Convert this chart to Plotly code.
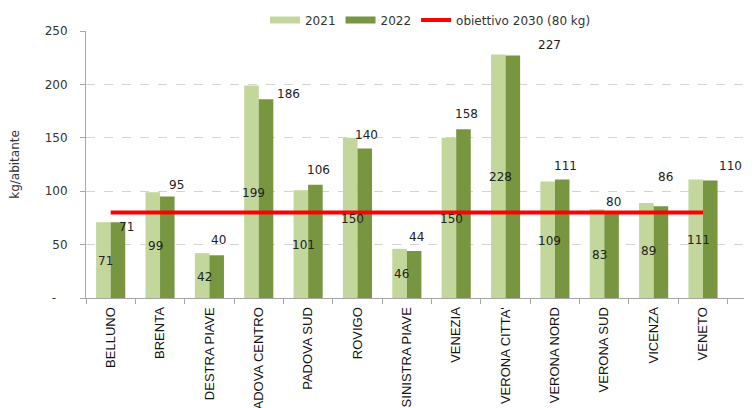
import plotly.graph_objects as go

categories = ["BELLUNO", "BRENTA", "DESTRA PIAVE", "PADOVA CENTRO", "PADOVA SUD", "ROVIGO",
              "SINISTRA PIAVE", "VENEZIA", "VERONA CITTA'", "VERONA NORD", "VERONA SUD",
              "VICENZA", "VENETO"]
values_2021 = [71, 99, 42, 199, 101, 150, 46, 150, 228, 109, 83, 89, 111]
values_2022 = [71, 95, 40, 186, 106, 140, 44, 158, 227, 111, 80, 86, 110]
obiettivo_2030 = 80
y_tick_vals = [0, 50, 100, 150, 200, 250]
y_tick_text = ["-\u00a0\u00a0\u00a0", "50", "100", "150", "200", "250"]

# pixel offsets of the 2022 value labels (dx right, dy up) relative to the top of the dark bar
label_dx_2022 = [8.5, 9, 2, 22, 2.4, 2, 2, 2.5, 36, 3, 2, 4, 20]
label_dy_2022 = [-4.5, 11.5, 15, 5, 15, 13.5, 14, 15, 10.6, 13.5, 11, 29, 14.5]

LIGHT = "#C3D69B"
DARK = "#77963F"
RED = "#FF0000"
FONT = "DejaVu Sans"
LABEL_FONT = dict(family=FONT, size=12, color="#222222")

fig = go.Figure()
fig.add_trace(go.Bar(
    x=categories, y=values_2021, name="2021", marker_color=LIGHT, marker_line_width=0,
    showlegend=False))
fig.add_trace(go.Bar(
    x=categories, y=values_2022, name="2022", marker_color=DARK, marker_line_width=0,
    showlegend=False))
fig.add_trace(go.Scatter(
    x=[categories[0], categories[-1]], y=[obiettivo_2030, obiettivo_2030], mode="lines",
    line=dict(color=RED, width=4), name="obiettivo 2030 (80 kg)", legendrank=3))
# legend proxies (wide flat swatches like the original)
fig.add_trace(go.Scatter(x=[None], y=[None], mode="lines", line=dict(color=LIGHT, width=7),
                         name="2021", legendrank=1))
fig.add_trace(go.Scatter(x=[None], y=[None], mode="lines", line=dict(color=DARK, width=7),
                         name="2022", legendrank=2))

# 2021 labels: centred inside the light bar
for cat, v in zip(categories, values_2021):
    fig.add_annotation(x=cat, y=v / 2, xref="x", yref="y", text=str(v), showarrow=False,
                       xanchor="center", yanchor="middle", xshift=-7.5 + 2.5, yshift=-1,
                       font=LABEL_FONT)
# 2022 labels: above the dark bar
for cat, v, dx, dy in zip(categories, values_2022, label_dx_2022, label_dy_2022):
    fig.add_annotation(x=cat, y=v, xref="x", yref="y", text=str(v), showarrow=False,
                       xanchor="center", yanchor="middle", xshift=7.5 + dx, yshift=dy,
                       font=LABEL_FONT)

fig.update_layout(
    width=755, height=408,
    margin=dict(l=78, r=19, t=23, b=118, autoexpand=False),
    paper_bgcolor="white", plot_bgcolor="white",
    barmode="group", bargap=0.41, bargroupgap=0,
    font=dict(family=FONT, size=12, color="#333333"),
    legend=dict(orientation="h", x=0.272, y=1.041, xanchor="left", yanchor="middle",
                font=dict(family=FONT, size=12, color="#333333"),
                itemwidth=30, traceorder="normal", bgcolor="rgba(0,0,0,0)"),
    xaxis=dict(
        type="category", showline=True, linecolor="#A6A6A6", linewidth=1,
        ticks="outside", ticklen=5, tickcolor="#A6A6A6", tickson="boundaries",
        tickangle=-90, tickfont=dict(family="Liberation Sans", size=13, color="#111111"),
        ticklabelstandoff=3, showgrid=False, automargin=False),
    yaxis=dict(
        range=[0, 250], tickvals=y_tick_vals, ticktext=y_tick_text,
        showline=True, linecolor="#A6A6A6", linewidth=1,
        ticks="outside", ticklen=5, tickcolor="#A6A6A6", ticklabelstandoff=10,
        tickfont=dict(family=FONT, size=12, color="#333333"),
        showgrid=True, gridcolor="#D4D4D4", griddash="dash", gridwidth=1, zeroline=False,
        automargin=False,
        title=dict(text="kg/abitante", font=dict(family=FONT, size=12, color="#333333"),
                   standoff=22)),
)

fig.write_html("out.html")
